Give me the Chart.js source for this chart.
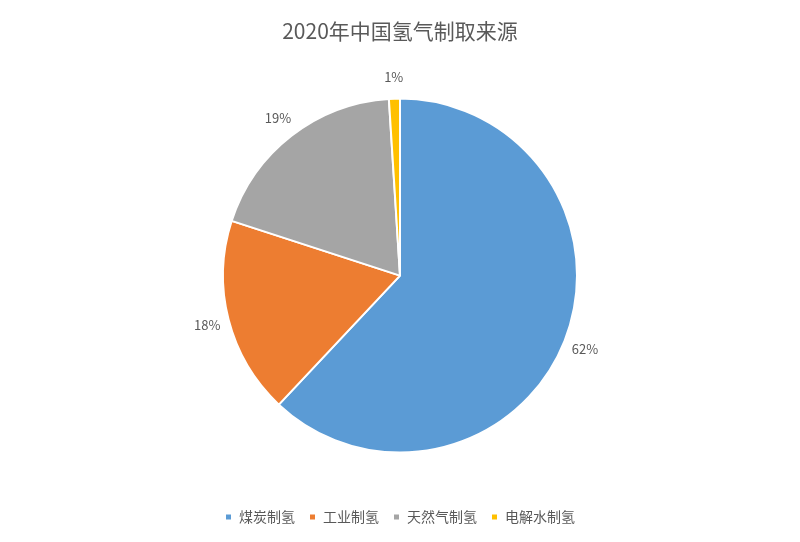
<!DOCTYPE html>
<html>
<head>
<meta charset="utf-8">
<script src="https://cdn.jsdelivr.net/npm/chart.js@4"></script>
<style>
  html, body { margin: 0; padding: 0; background: #fff; }
  #wrap { width: 800px; height: 542px; }
</style>
</head>
<body>
<div id="wrap"><canvas id="pieChart"></canvas></div>
<script>
const categories = ["煤炭制氢", "工业制氢", "天然气制氢", "电解水制氢"];
const shares = [62, 18, 19, 1];
const sliceColors = ["#5B9BD5", "#ED7D31", "#A5A5A5", "#FFC000"];

const fontFamily = "'Noto Sans CJK SC', 'Noto Sans', sans-serif";

// draws the percent labels just outside each slice
const outsideLabels = {
  id: "outsideLabels",
  afterDatasetsDraw(chart) {
    const ctx = chart.ctx;
    const meta = chart.getDatasetMeta(0);
    ctx.save();
    ctx.fillStyle = "#595959";
    ctx.font = "13px " + fontFamily;
    ctx.textAlign = "center";
    ctx.textBaseline = "middle";
    meta.data.forEach((arc, i) => {
      const mid = (arc.startAngle + arc.endAngle) / 2;
      const r = arc.outerRadius + 22;
      ctx.fillText(shares[i] + "%", arc.x + Math.cos(mid) * r, arc.y + Math.sin(mid) * r);
    });
    ctx.restore();
  }
};

new Chart(document.getElementById("pieChart").getContext("2d"), {
  type: "pie",
  data: {
    labels: categories,
    datasets: [{
      data: shares,
      backgroundColor: sliceColors,
      borderColor: "#ffffff",
      borderWidth: 2,
      radius: 177
    }]
  },
  options: {
    responsive: true,
    maintainAspectRatio: false,
    animation: false,
    layout: { padding: { top: 2, bottom: 8 } },
    plugins: {
      title: {
        display: true,
        text: "2020年中国氢气制取来源",
        color: "#595959",
        font: { size: 21, family: fontFamily, weight: "normal" },
        padding: { top: 16, bottom: 12 }
      },
      legend: {
        position: "bottom",
        labels: {
          color: "#595959",
          font: { size: 14, family: fontFamily },
          usePointStyle: true,
          pointStyle: "rect",
          boxWidth: 7,
          boxHeight: 7,
          padding: 14
        }
      },
      tooltip: { enabled: false }
    }
  },
  plugins: [outsideLabels]
});
</script>
</body>
</html>
